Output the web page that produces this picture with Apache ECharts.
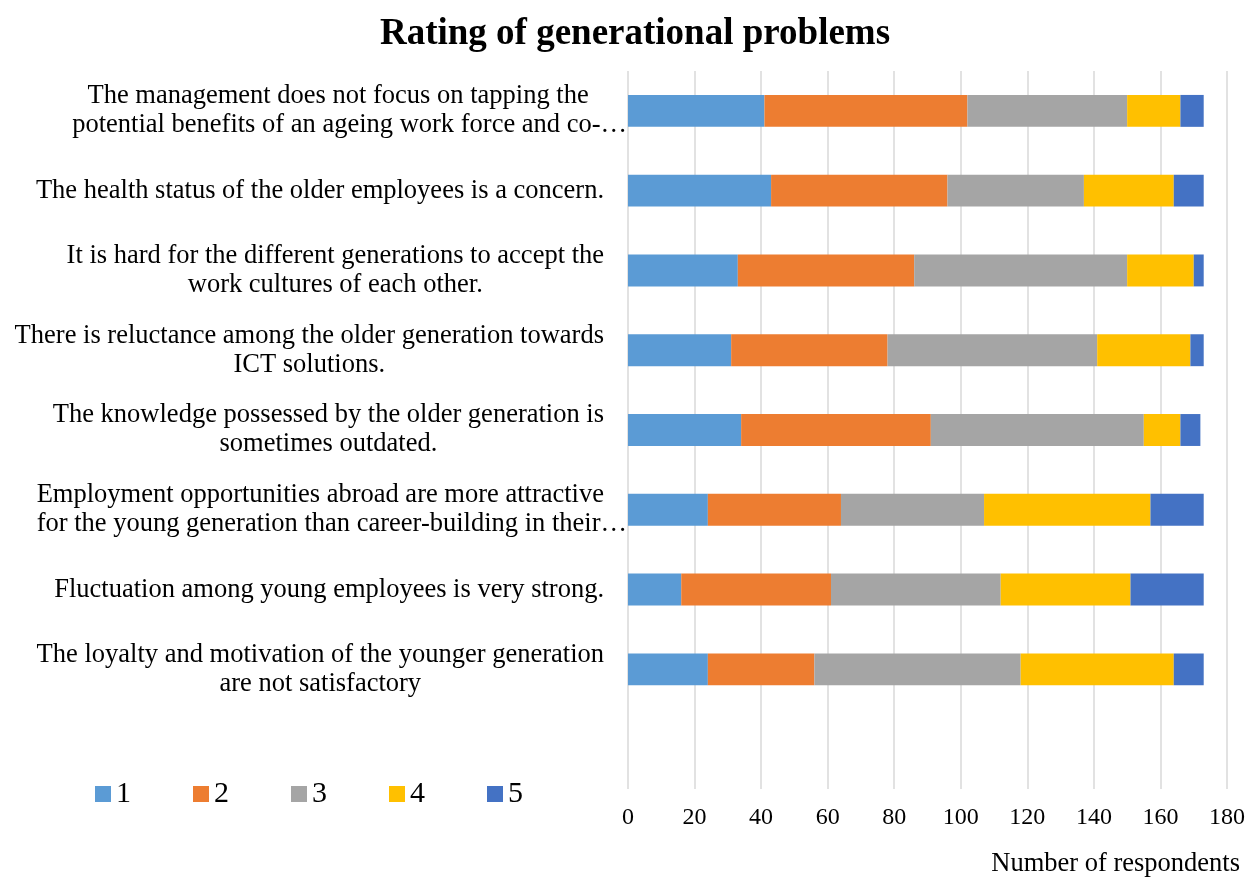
<!DOCTYPE html>
<html>
<head>
<meta charset="utf-8">
<script src="https://cdn.jsdelivr.net/npm/echarts@6/dist/echarts.min.js"></script>
<style>
  html, body { margin: 0; padding: 0; background: #fff; }
  #chart { width: 1248px; height: 877px; }
</style>
</head>
<body>
<div id="chart"></div>
<script>
// statements (top to bottom), last one left empty like in the sheet
const problems = [
  'The management does not focus on tapping the\npotential benefits of an ageing work force and co-…',
  'The health status of the older employees is a concern.',
  'It is hard for the different generations to accept the\nwork cultures of each other.',
  'There is reluctance among the older generation towards\nICT solutions.',
  'The knowledge possessed by the older generation is\nsometimes outdated.',
  'Employment opportunities abroad are more attractive\nfor the young generation than career-building in their…',
  'Fluctuation among young employees is very strong.',
  'The loyalty and motivation of the younger generation\nare not satisfactory',
  ''
]
const ratingNames = ['1', '2', '3', '4', '5']
const rating1 = [41, 43, 33, 31, 34, 24, 16, 24]
const rating2 = [61, 53, 53, 47, 57, 40, 45, 32]
const rating3 = [48, 41, 64, 63, 64, 43, 51, 62]
const rating4 = [16, 27, 20, 28, 11, 50, 39, 46]
const rating5 = [7, 9, 3, 4, 6, 16, 22, 9]
const xTicks = { min: 0, max: 180, interval: 20 }

const colors = ['#5B9BD5', '#ED7D31', '#A5A5A5', '#FFC000', '#4472C4']
const serif = '"Liberation Serif", "Times New Roman", serif'

const myChart = echarts.init(document.getElementById('chart'))

const series = [rating1, rating2, rating3, rating4, rating5].map((d, i) => {
  return {
    name: ratingNames[i],
    type: 'bar',
    stack: 'total',
    barWidth: '40%',
    itemStyle: { color: colors[i] },
    data: d
  }
})

const labelFont = { fontFamily: serif, fontSize: 26.5, lineHeight: 29, color: '#000', align: 'center' }

const option = {
  animation: false,
  color: colors,
  title: [
    {
      text: 'Rating of generational problems',
      left: 630,
      textAlign: 'center',
      top: 11,
      textStyle: { fontFamily: serif, fontSize: 37, fontWeight: 'bold', color: '#000' }
    },
    {
      text: 'Number of respondents',
      right: 3,
      top: 846,
      textStyle: { fontFamily: serif, fontSize: 26.5, fontWeight: 'normal', color: '#000' }
    }
  ],
  legend: {
    left: 90,
    top: 774,
    icon: 'rect',
    itemWidth: 16,
    itemHeight: 16,
    itemGap: 62,
    textStyle: { fontFamily: serif, fontSize: 30, color: '#000' },
    data: ratingNames
  },
  grid: {
    left: 628,
    right: 20,
    top: 71,
    bottom: 88,
    containLabel: false
  },
  xAxis: {
    type: 'value',
    min: xTicks.min,
    max: xTicks.max,
    interval: xTicks.interval,
    axisLine: { show: false },
    axisTick: { show: false },
    axisLabel: {
      margin: 17,
      fontFamily: serif,
      fontSize: 24,
      color: '#000'
    },
    splitLine: { lineStyle: { color: '#D9D9D9', width: 1.5 } }
  },
  yAxis: {
    type: 'category',
    inverse: true,
    data: problems,
    axisLine: { show: false },
    axisTick: { show: false },
    axisLabel: {
      margin: 1,
      align: 'right',
      // cut-off lines (ending with …) run up to the axis like in the original
      formatter: function (v) {
        return v.split('\n').map(s => (s.endsWith('…') ? '{t|' : '{c|') + s + '}').join('\n')
      },
      rich: {
        c: Object.assign({ padding: [0, 23, 0, 0] }, labelFont),
        t: Object.assign({}, labelFont)
      }
    }
  },
  series: series
}
myChart.setOption(option)
</script>
</body>
</html>
